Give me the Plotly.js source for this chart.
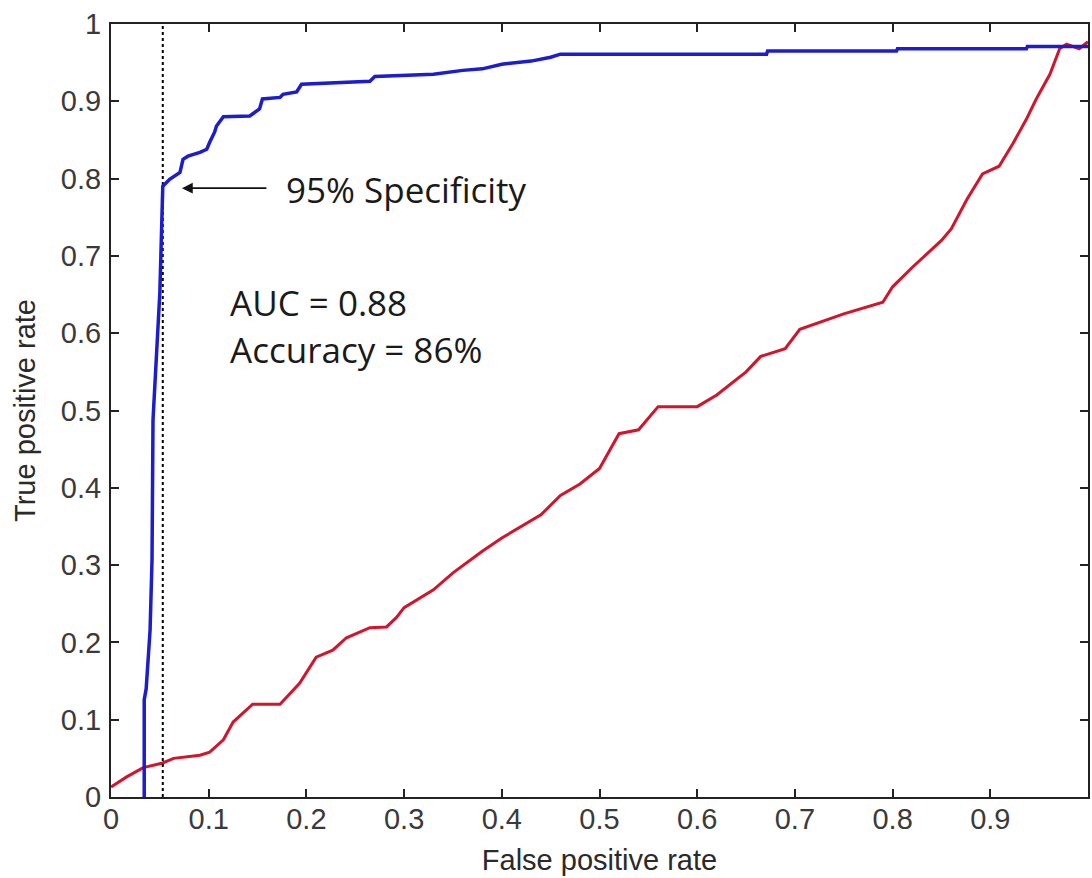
<!DOCTYPE html>
<html>
<head>
<meta charset="utf-8">
<script src="https://cdn.plot.ly/plotly-3.0.1.min.js"></script>
<style>html,body{margin:0;padding:0;background:#fff;}#chart{width:1092px;height:878px;}</style>
</head>
<body>
<div id="chart"></div>
<script>
// Blue ROC curve (classifier)
const blueFPR = [0.034, 0.034, 0.036, 0.040, 0.042, 0.043, 0.050, 0.052, 0.053, 0.060, 0.0706, 0.0737, 0.0788, 0.091, 0.098, 0.101, 0.106, 0.108, 0.115, 0.142, 0.152, 0.155, 0.173, 0.176, 0.190, 0.195, 0.245, 0.265, 0.270, 0.300, 0.330, 0.360, 0.380, 0.400, 0.430, 0.450, 0.460, 0.671, 0.672, 0.804, 0.805, 0.937, 0.938, 1.000];
const blueTPR = [0.000, 0.126, 0.140, 0.216, 0.307, 0.488, 0.653, 0.738, 0.790, 0.799, 0.808, 0.825, 0.829, 0.834, 0.838, 0.847, 0.860, 0.868, 0.880, 0.881, 0.890, 0.903, 0.905, 0.909, 0.912, 0.922, 0.925, 0.926, 0.932, 0.933, 0.935, 0.940, 0.942, 0.948, 0.952, 0.957, 0.961, 0.961, 0.965, 0.965, 0.968, 0.968, 0.971, 0.971];

// Red ROC curve
const redFPR = [0.000, 0.016, 0.033, 0.053, 0.064, 0.091, 0.101, 0.115, 0.125, 0.145, 0.173, 0.193, 0.210, 0.227, 0.241, 0.265, 0.282, 0.292, 0.300, 0.330, 0.350, 0.380, 0.400, 0.420, 0.440, 0.460, 0.480, 0.500, 0.520, 0.540, 0.560, 0.600, 0.620, 0.650, 0.665, 0.690, 0.705, 0.750, 0.790, 0.800, 0.820, 0.850, 0.860, 0.876, 0.892, 0.909, 0.923, 0.937, 0.947, 0.961, 0.971, 0.978, 0.991, 1.000];
const redTPR = [0.013, 0.026, 0.038, 0.044, 0.050, 0.054, 0.058, 0.074, 0.097, 0.120, 0.120, 0.147, 0.181, 0.190, 0.206, 0.219, 0.220, 0.232, 0.245, 0.268, 0.290, 0.318, 0.335, 0.350, 0.365, 0.390, 0.405, 0.425, 0.470, 0.475, 0.505, 0.505, 0.520, 0.550, 0.570, 0.580, 0.605, 0.625, 0.640, 0.660, 0.685, 0.720, 0.735, 0.773, 0.806, 0.816, 0.845, 0.877, 0.903, 0.935, 0.968, 0.974, 0.968, 0.977];

// 95% specificity threshold line
const specFPR = [0.053, 0.053];
const specTPR = [0, 1];

// Arrow annotation
const arrowHead = [0.0726, 0.7876];
const arrowTail = [0.1606, 0.7876];

const tickVals = [0, 0.1, 0.2, 0.3, 0.4, 0.5, 0.6, 0.7, 0.8, 0.9, 1];
const tickText = ['0', '0.1', '0.2', '0.3', '0.4', '0.5', '0.6', '0.7', '0.8', '0.9', '1'];

const labels = {
  spec: '95% Specificity',
  auc: 'AUC = 0.88',
  acc: 'Accuracy = 86%',
  xTitle: 'False positive rate',
  yTitle: 'True positive rate'
};

const traces = [
  {x: redFPR, y: redTPR, type: 'scatter', mode: 'lines', line: {color: '#d3142a', width: 3}, hoverinfo: 'skip'},
  {x: specFPR, y: specTPR, type: 'scatter', mode: 'lines', line: {color: '#000', width: 2, dash: 'dot'}, hoverinfo: 'skip'},
  {x: blueFPR, y: blueTPR, type: 'scatter', mode: 'lines', line: {color: '#1c1cd0', width: 3.5}, hoverinfo: 'skip'}
];

const tickFont = {family: 'Liberation Sans, Arial, sans-serif', size: 29, color: '#3a3a3a'};
const titleFont = {family: 'Liberation Sans, Arial, sans-serif', size: 29, color: '#2a2a2a'};
const annFont = {family: 'Open Sans, sans-serif', size: 35, color: '#1a1a1a'};

const axisCommon = {
  range: [0, 1],
  tickvals: tickVals,
  ticktext: tickText,
  ticks: 'inside',
  ticklen: 8,
  tickwidth: 2,
  tickcolor: '#222',
  showline: true,
  linecolor: '#222',
  linewidth: 2,
  mirror: 'ticks',
  showgrid: false,
  zeroline: false,
  tickfont: tickFont,
  automargin: false,
  fixedrange: true
};

const layout = {
  width: 1092,
  height: 878,
  margin: {l: 111, r: 4, t: 24, b: 81, pad: 0},
  paper_bgcolor: '#fff',
  plot_bgcolor: '#fff',
  showlegend: false,
  xaxis: Object.assign({}, axisCommon, {title: {text: labels.xTitle, font: titleFont, standoff: 16}, ticklabelstandoff: -5}),
  yaxis: Object.assign({}, axisCommon, {title: {text: labels.yTitle, font: titleFont, standoff: 17}, ticklabelstandoff: 2}),
  annotations: [
    {x: arrowHead[0], y: arrowHead[1], ax: arrowTail[0], ay: arrowTail[1], xref: 'x', yref: 'y', axref: 'x', ayref: 'y', text: '', showarrow: true, arrowhead: 2, arrowsize: 1.2, arrowwidth: 1.8, arrowcolor: '#111'},
    {x: 0.177, y: 0.786, xref: 'x', yref: 'y', xanchor: 'left', yanchor: 'middle', text: labels.spec, showarrow: false, font: annFont},
    {x: 0.1197, y: 0.640, xref: 'x', yref: 'y', xanchor: 'left', yanchor: 'middle', text: labels.auc, showarrow: false, font: annFont},
    {x: 0.1197, y: 0.579, xref: 'x', yref: 'y', xanchor: 'left', yanchor: 'middle', text: labels.acc, showarrow: false, font: annFont}
  ]
};

Plotly.newPlot('chart', traces, layout, {displayModeBar: false, staticPlot: true});
</script>
</body>
</html>
